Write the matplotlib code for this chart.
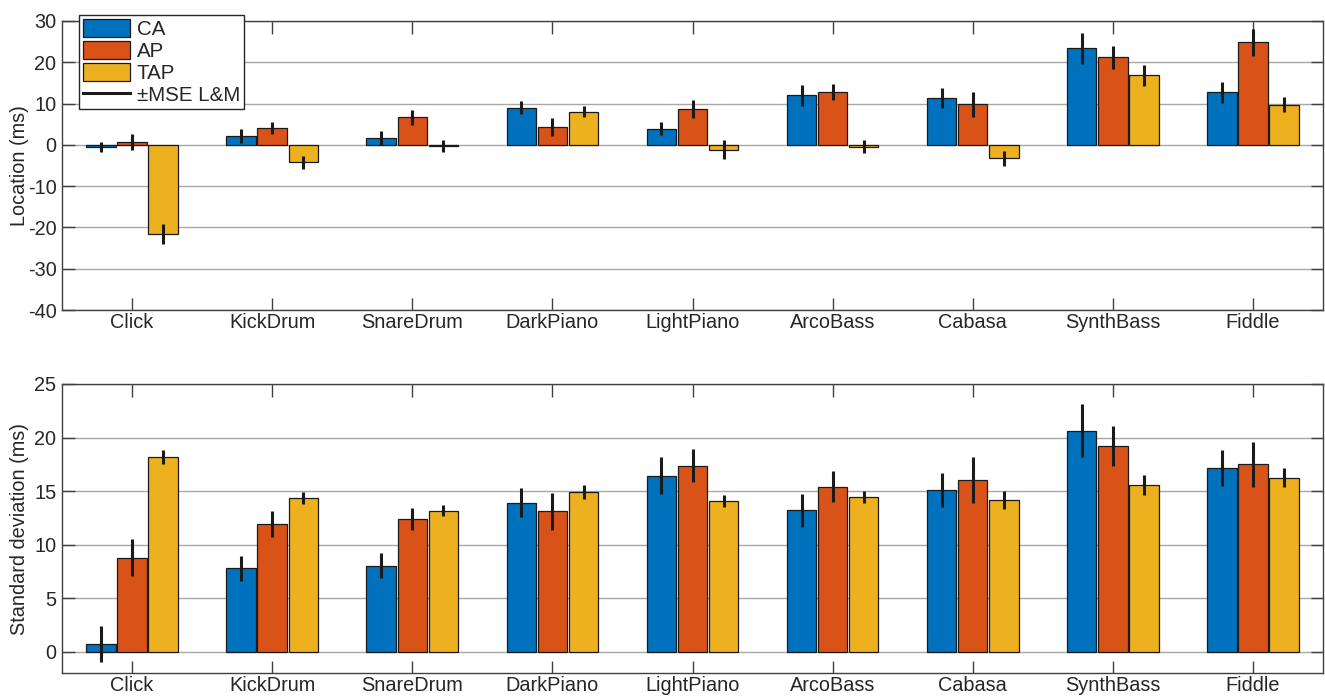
import numpy as np
import matplotlib
matplotlib.use("Agg")
import matplotlib.pyplot as plt
from matplotlib.patches import Patch
from matplotlib.lines import Line2D

categories = ["Click", "KickDrum", "SnareDrum", "DarkPiano", "LightPiano",
              "ArcoBass", "Cabasa", "SynthBass", "Fiddle"]
series = ["CA", "AP", "TAP"]

# location (ms) and its error half-widths
loc_ca = [-0.6, 2.2, 1.7, 9.0, 3.95, 12.0, 11.4, 23.4, 12.7]
loc_ap = [0.7, 4.1, 6.7, 4.35, 8.6, 12.8, 9.8, 21.2, 24.8]
loc_tap = [-21.6, -4.2, -0.3, 8.06, -1.2, -0.4, -3.3, 16.8, 9.75]
loc_err_ca = [1.2, 1.7, 1.7, 1.6, 1.65, 2.6, 2.4, 3.75, 2.6]
loc_err_ap = [1.9, 1.5, 1.8, 2.1, 2.2, 1.9, 3.0, 2.8, 3.3]
loc_err_tap = [2.5, 1.6, 1.4, 1.3, 2.3, 1.6, 1.7, 2.5, 1.9]

# standard deviation (ms) and its error half-widths
sd_ca = [0.7, 7.79, 8.04, 13.9, 16.45, 13.2, 15.1, 20.65, 17.16]
sd_ap = [8.78, 11.93, 12.4, 13.1, 17.35, 15.4, 16.05, 19.2, 17.5]
sd_tap = [18.2, 14.36, 13.18, 14.9, 14.05, 14.45, 14.17, 15.6, 16.26]
sd_err_ca = [1.67, 1.15, 1.2, 1.35, 1.7, 1.55, 1.6, 2.5, 1.65]
sd_err_ap = [1.7, 1.25, 1.0, 1.7, 1.55, 1.45, 2.15, 1.9, 2.1]
sd_err_tap = [0.67, 0.56, 0.5, 0.62, 0.55, 0.58, 0.87, 0.93, 0.85]

colors = ["#0072BD", "#D95319", "#EDB120"]
txt = "#262626"

plt.rcParams["font.family"] = ["Liberation Sans", "DejaVu Sans"]
plt.rcParams["font.size"] = 14
plt.rcParams["axes.unicode_minus"] = False

fig = plt.figure(figsize=(13.25, 6.97), dpi=100)
ax1 = fig.add_axes([0.0468, 0.5552, 0.9517, 0.4147])
ax2 = fig.add_axes([0.0468, 0.0344, 0.9517, 0.4147])

x = np.arange(1, len(categories) + 1)
offsets = [-0.222, 0.0, 0.222]
width = 0.21


def draw(ax, vals, errs, ylim, yticks, ylabel):
    ax.set_axisbelow(True)
    ax.yaxis.grid(True, color="#a8a8a8", lw=1.0)
    for i in range(3):
        ax.bar(x + offsets[i], vals[i], width, color=colors[i],
               edgecolor="#1a1a1a", lw=0.9, zorder=2)
        ax.errorbar(x + offsets[i], vals[i], yerr=errs[i], fmt="none",
                    ecolor="#1a1a1a", elinewidth=2.2, capsize=0, zorder=3)
    ax.set_xlim(0.5, 9.5)
    ax.set_ylim(*ylim)
    ax.set_yticks(yticks)
    ax.set_xticks(x)
    ax.set_xticklabels(categories)
    ax.set_ylabel(ylabel, color=txt, fontsize=14.3)
    ax.yaxis.set_label_coords(-0.026, 0.5)
    ax.tick_params(direction="in", length=9, width=1.0, color="#404040",
                   labelcolor=txt, top=True, right=True, labelsize=14.3, pad=4)
    ax.tick_params(axis="x", pad=2.5)
    for s in ax.spines.values():
        s.set_color("#404040")
        s.set_linewidth(1.0)


draw(ax1, [loc_ca, loc_ap, loc_tap], [loc_err_ca, loc_err_ap, loc_err_tap],
     (-40, 30), np.arange(-40, 31, 10), "Location (ms)")
draw(ax2, [sd_ca, sd_ap, sd_tap], [sd_err_ca, sd_err_ap, sd_err_tap],
     (-2, 25), np.arange(0, 26, 5), "Standard deviation (ms)")

handles = [Patch(facecolor=c, edgecolor="#1a1a1a", lw=0.9) for c in colors]
handles.append(Line2D([], [], color="#1a1a1a", lw=2.2))
leg = ax1.legend(handles, series + ["\u00b1MSE L&M"], loc="upper left",
                 bbox_to_anchor=(0.0596, 0.9785), bbox_transform=fig.transFigure,
                 fancybox=False, framealpha=1, edgecolor="#262626",
                 borderpad=0.2, labelspacing=0.08, handlelength=2.3,
                 handleheight=1.0, handletextpad=0.3, borderaxespad=0,
                 fontsize=14.8)
leg.get_frame().set_linewidth(1.0)
for t in leg.get_texts():
    t.set_color(txt)

fig.savefig("out.png", dpi=100)
